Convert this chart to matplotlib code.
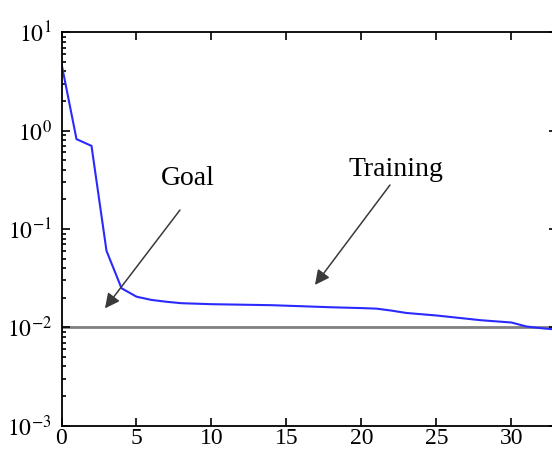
import matplotlib
matplotlib.use("Agg")
import matplotlib.pyplot as plt

# training error per epoch
epochs = [0, 1, 2, 3, 4, 5, 6, 7, 8, 10, 12, 14, 16, 18, 20, 21, 22, 23, 25, 28, 30, 31, 32, 33]
error = [4.8, 0.82, 0.70, 0.060, 0.025, 0.0205, 0.0190, 0.0182, 0.0176, 0.0172, 0.0170,
         0.0168, 0.0164, 0.0160, 0.0157, 0.0155, 0.0148, 0.0140, 0.0132, 0.0118, 0.0112,
         0.0102, 0.0098, 0.0095]
goal = 0.01

x_ticks = [0, 5, 10, 15, 20, 25, 30]
y_ticks = [1e-3, 1e-2, 1e-1, 1e0, 1e1]
y_ticklabels = ["$10^{-3}$", "$10^{-2}$", "$10^{-1}$", "$10^{0}$", "$10^{1}$"]

plt.rcParams["font.family"] = ["Liberation Serif", "DejaVu Serif"]
plt.rcParams["mathtext.fontset"] = "stix"

fig = plt.figure(figsize=(5.52, 4.5), dpi=100)
# right spine sits just past the picture edge, as in the (cropped) reference
ax = fig.add_axes([61.5 / 552, 24.3 / 450, 496 / 552, 393.4 / 450])

ax.axhline(goal, color="#808080", lw=2.0, zorder=1)
ax.plot(epochs, error, color="#2a2aff", lw=1.5, zorder=2)

ax.set_yscale("log")
ax.set_xlim(0, 33.07)
ax.set_ylim(1e-3, 1e1)
ax.set_xticks(x_ticks)
ax.set_xticklabels([str(t) for t in x_ticks])
ax.set_yticks(y_ticks)
ax.set_yticklabels(y_ticklabels)

ax.tick_params(which="both", direction="in", top=True, right=True, labelsize=17,
               width=1.2, colors="black")
ax.tick_params(which="major", length=6)
ax.tick_params(which="minor", length=3)
ax.tick_params(axis="x", which="minor", top=False, bottom=False)
ax.tick_params(axis="x", pad=1.5)
ax.tick_params(axis="y", pad=7)
for s in ax.spines.values():
    s.set_linewidth(1.3)

arrow = dict(arrowstyle="-|>", color="#3a3a3a", lw=1.1, mutation_scale=22,
             shrinkA=0, shrinkB=0)
ax.annotate("", xy=(2.9, 0.0156), xytext=(7.9, 0.156), arrowprops=arrow)
ax.text(8.4, 0.33, "Goal", fontsize=20, ha="center", va="center")
ax.annotate("", xy=(16.9, 0.027), xytext=(21.9, 0.28), arrowprops=arrow)
ax.text(22.3, 0.40, "Training", fontsize=20, ha="center", va="center")

fig.savefig("out.png", dpi=100)
